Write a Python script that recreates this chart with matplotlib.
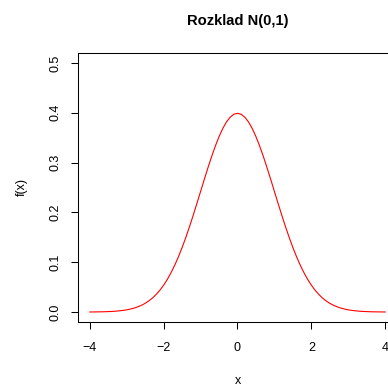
import matplotlib
matplotlib.use("Agg")
import matplotlib.pyplot as plt

plt.rcParams['font.family'] = ['Liberation Sans', 'DejaVu Sans']

x_values = [-4.0, -3.9, -3.8, -3.7, -3.6, -3.5, -3.4, -3.3, -3.2, -3.1,
            -3.0, -2.9, -2.8, -2.7, -2.6, -2.5, -2.4, -2.3, -2.2, -2.1,
            -2.0, -1.9, -1.8, -1.7, -1.6, -1.5, -1.4, -1.3, -1.2, -1.1,
            -1.0, -0.9, -0.8, -0.7, -0.6, -0.5, -0.4, -0.3, -0.2, -0.1,
            0.0,
            0.1, 0.2, 0.3, 0.4, 0.5, 0.6, 0.7, 0.8, 0.9, 1.0,
            1.1, 1.2, 1.3, 1.4, 1.5, 1.6, 1.7, 1.8, 1.9, 2.0,
            2.1, 2.2, 2.3, 2.4, 2.5, 2.6, 2.7, 2.8, 2.9, 3.0,
            3.1, 3.2, 3.3, 3.4, 3.5, 3.6, 3.7, 3.8, 3.9, 4.0]
density = [0.0001, 0.0002, 0.0003, 0.0004, 0.0006, 0.0009, 0.0012, 0.0017, 0.0024, 0.0033,
           0.0044, 0.0060, 0.0079, 0.0104, 0.0136, 0.0175, 0.0224, 0.0283, 0.0355, 0.0440,
           0.0540, 0.0656, 0.0790, 0.0940, 0.1109, 0.1295, 0.1497, 0.1714, 0.1942, 0.2179,
           0.2420, 0.2661, 0.2897, 0.3123, 0.3332, 0.3521, 0.3683, 0.3814, 0.3910, 0.3970,
           0.3989,
           0.3970, 0.3910, 0.3814, 0.3683, 0.3521, 0.3332, 0.3123, 0.2897, 0.2661, 0.2420,
           0.2179, 0.1942, 0.1714, 0.1497, 0.1295, 0.1109, 0.0940, 0.0790, 0.0656, 0.0540,
           0.0440, 0.0355, 0.0283, 0.0224, 0.0175, 0.0136, 0.0104, 0.0079, 0.0060, 0.0044,
           0.0033, 0.0024, 0.0017, 0.0012, 0.0009, 0.0006, 0.0004, 0.0003, 0.0002, 0.0001]
x_ticks = [-4, -2, 0, 2, 4]
x_tick_labels = ['\u22124', '\u22122', '0', '2', '4']
y_ticks = [0.0, 0.1, 0.2, 0.3, 0.4, 0.5]
y_tick_labels = ['0.0', '0.1', '0.2', '0.3', '0.4', '0.5']
title = 'Rozklad N(0,1)'

W, H = 388, 386
fig = plt.figure(figsize=(W / 100, H / 100), dpi=100)
left, right, top, bottom = 78, 397, 53, 322
ax = fig.add_axes([left / W, 1 - bottom / H, (right - left) / W, (bottom - top) / H])

ax.plot(x_values, density, color='red', lw=0.8)
ax.set_xlim(-4.32, 4.32)
ax.set_ylim(-0.02, 0.52)

ax.set_xticks(x_ticks)
ax.set_xticklabels(x_tick_labels)
ax.set_yticks(y_ticks)
ax.set_yticklabels(y_tick_labels, rotation=90, va='center')
ax.tick_params(direction='out', length=5.2, width=0.75, labelsize=9, pad=9)
ax.tick_params(axis='y', pad=7)
for s in ax.spines.values():
    s.set_linewidth(0.75)

ax.set_title(title, fontsize=10.6, fontweight='bold', pad=20)
ax.set_xlabel('x', fontsize=9, labelpad=15)
ax.set_ylabel('f(x)', fontsize=9, labelpad=15)

fig.savefig('out.png', dpi=100)
